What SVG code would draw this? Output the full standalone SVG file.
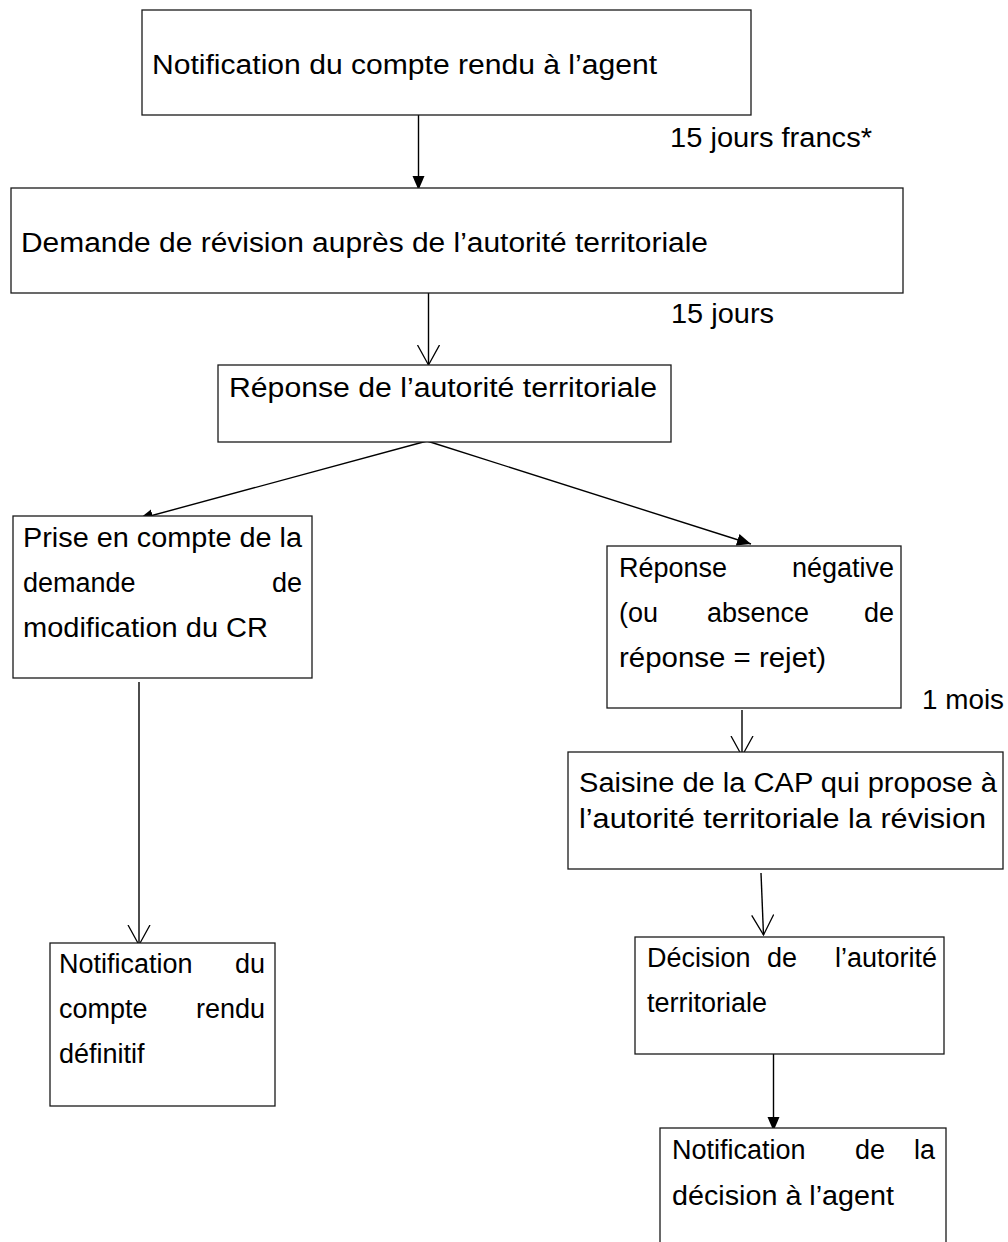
<svg xmlns="http://www.w3.org/2000/svg" width="1008" height="1242" viewBox="0 0 1008 1242">
<defs>
<style>
.box{fill:#fff;stroke:#1a1a1a;stroke-width:1.3}
.t{font-family:"Liberation Sans",Arial,sans-serif;font-size:27px;fill:#000}
.e{text-anchor:end}
.c{fill:none;stroke:#000;stroke-width:1.4}
</style>
<marker id="fill" markerUnits="userSpaceOnUse" markerWidth="16" markerHeight="14" refX="14" refY="6" orient="auto">
<path d="M0,0 L14,6 L0,12 z" fill="#000"/>
</marker>
<marker id="open" markerUnits="userSpaceOnUse" markerWidth="24" markerHeight="26" refX="20.5" refY="11.5" orient="auto">
<path d="M0.5,0.5 L20.5,11.5 L0.5,22.5" fill="none" stroke="#000" stroke-width="1.3"/>
</marker>
</defs>
<rect width="1008" height="1242" fill="#fff"/>

<g id="connectors">
<line class="c" x1="418.5" y1="115" x2="418.5" y2="190" marker-end="url(#fill)"/>
<line class="c" x1="428.5" y1="293" x2="428.5" y2="365" marker-end="url(#open)"/>
<line class="c" x1="427" y1="441" x2="139" y2="519" marker-end="url(#fill)"/>
<line class="c" x1="427" y1="441" x2="751" y2="544" marker-end="url(#fill)"/>
<line class="c" x1="139" y1="682" x2="139" y2="945" marker-end="url(#open)"/>
<line class="c" x1="742" y1="710" x2="742" y2="756" marker-end="url(#open)"/>
<line class="c" x1="761" y1="873" x2="763.5" y2="935" marker-end="url(#open)"/>
<line class="c" x1="773.5" y1="1054" x2="773.5" y2="1131" marker-end="url(#fill)"/>
<text class="t" x="670" y="147" textLength="202" lengthAdjust="spacingAndGlyphs">15 jours francs*</text>
<text class="t" x="671" y="323" textLength="103" lengthAdjust="spacingAndGlyphs">15 jours</text>
<text class="t" x="922" y="709" textLength="82" lengthAdjust="spacingAndGlyphs">1 mois</text>
</g>

<g id="n1">
<rect class="box" x="142" y="10" width="609" height="105"/>
<text class="t" x="152" y="74" textLength="505" lengthAdjust="spacingAndGlyphs">Notification du compte rendu à l’agent</text>
</g>

<g id="n2">
<rect class="box" x="11" y="188" width="892" height="105"/>
<text class="t" x="21" y="252" textLength="687" lengthAdjust="spacingAndGlyphs">Demande de révision auprès de l’autorité territoriale</text>
</g>

<g id="n3">
<rect class="box" x="218" y="365" width="453" height="77"/>
<text class="t" x="229" y="397" textLength="428" lengthAdjust="spacingAndGlyphs">Réponse de l’autorité territoriale</text>
</g>

<g id="n4">
<rect class="box" x="13" y="516" width="299" height="162"/>
<text class="t" x="23" y="547" textLength="279" lengthAdjust="spacingAndGlyphs">Prise en compte de la</text>
<text class="t" x="23" y="592">demande</text>
<text class="t e" x="302" y="592">de</text>
<text class="t" x="23" y="637" textLength="245" lengthAdjust="spacingAndGlyphs">modification du CR</text>
</g>

<g id="n5">
<rect class="box" x="607" y="546" width="294" height="162"/>
<text class="t" x="619" y="577">Réponse</text>
<text class="t e" x="894" y="577">négative</text>
<text class="t" x="619" y="622">(ou</text>
<text class="t" x="707" y="622">absence</text>
<text class="t e" x="894" y="622">de</text>
<text class="t" x="619" y="667" textLength="207" lengthAdjust="spacingAndGlyphs">réponse = rejet)</text>
</g>

<g id="n6">
<rect class="box" x="568" y="752" width="435" height="117"/>
<text class="t" x="579" y="792" textLength="418" lengthAdjust="spacingAndGlyphs">Saisine de la CAP qui propose à</text>
<text class="t" x="579" y="828" textLength="407" lengthAdjust="spacingAndGlyphs">l’autorité territoriale la révision</text>
</g>

<g id="n7">
<rect class="box" x="50" y="943" width="225" height="163"/>
<text class="t" x="59" y="973">Notification</text>
<text class="t e" x="265" y="973">du</text>
<text class="t" x="59" y="1018">compte</text>
<text class="t e" x="265" y="1018">rendu</text>
<text class="t" x="59" y="1063">définitif</text>
</g>

<g id="n8">
<rect class="box" x="635" y="937" width="309" height="117"/>
<text class="t" x="647" y="967">Décision</text>
<text class="t" x="767" y="967">de</text>
<text class="t e" x="937" y="967">l’autorité</text>
<text class="t" x="647" y="1012">territoriale</text>
</g>

<g id="n9">
<rect class="box" x="660" y="1128" width="286" height="130"/>
<text class="t" x="672" y="1159">Notification</text>
<text class="t" x="855" y="1159">de</text>
<text class="t e" x="935" y="1159">la</text>
<text class="t" x="672" y="1205" textLength="222" lengthAdjust="spacingAndGlyphs">décision à l’agent</text>
</g>
</svg>
